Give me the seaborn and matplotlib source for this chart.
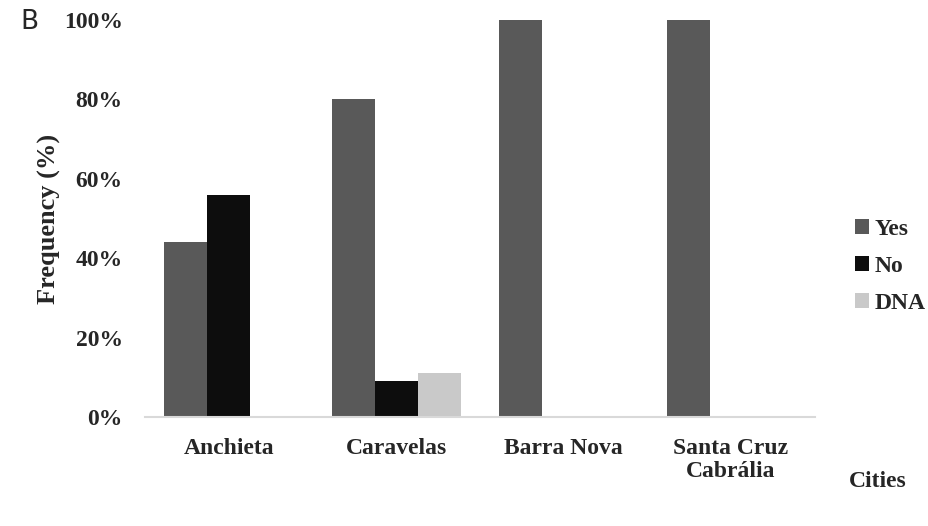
import pandas as pd
import seaborn as sns
import matplotlib.pyplot as plt
from matplotlib.ticker import PercentFormatter

# Data
cities = ['Anchieta', 'Caravelas', 'Barra Nova', 'Santa Cruz\nCabrália']
answers = ['Yes', 'No', 'DNA']
yes_vals = [44, 80, 100, 100]
no_vals = [56, 9, 0, 0]
dna_vals = [0, 11, 0, 0]

colors = ['#595959', '#0d0d0d', '#c9c9c9']

rows = []
for i, c in enumerate(cities):
    for a, vals in zip(answers, [yes_vals, no_vals, dna_vals]):
        rows.append({'City': c, 'Answer': a, 'Frequency': vals[i]})
df = pd.DataFrame(rows)

sns.set_style('white')
plt.rcParams['font.family'] = ['Liberation Serif', 'DejaVu Serif']

fig = plt.figure(figsize=(9.29, 5.26), dpi=100)
ax = fig.add_axes([0.156, 0.207, 0.721, 0.755])

sns.barplot(data=df, x='City', y='Frequency', hue='Answer', hue_order=answers,
            palette=colors, width=0.77, saturation=1, errorbar=None, ax=ax, linewidth=0)

ax.set_ylim(0, 100)
ax.set_yticks([0, 20, 40, 60, 80, 100])
ax.yaxis.set_major_formatter(PercentFormatter(decimals=0))
ax.tick_params(axis='y', labelsize=17, length=0, pad=16)
ax.tick_params(axis='x', labelsize=17, length=0, pad=15)
for lbl in ax.get_yticklabels() + ax.get_xticklabels():
    lbl.set_fontweight('bold')
    lbl.set_linespacing(1.15)

for s in ['top', 'right', 'left']:
    ax.spines[s].set_visible(False)
ax.spines['bottom'].set_color('#d9d9d9')
ax.spines['bottom'].set_linewidth(1.5)

ax.set_xlabel('')
ax.set_ylabel('Frequency (%)', fontsize=19, fontweight='bold', labelpad=2)

fig.text(0.945, 0.085, 'Cities', fontsize=17, fontweight='bold', ha='center', va='center')
fig.text(0.022, 0.958, 'B', fontsize=19, family='DejaVu Sans', ha='left', va='center')

ax.get_legend().remove()
handles, labels = ax.get_legend_handles_labels()
fig.legend(handles, labels, loc='center left', bbox_to_anchor=(0.92, 0.494), frameon=False,
           prop={'size': 17, 'weight': 'bold'}, handlelength=0.6, handleheight=0.6,
           handletextpad=0.25, labelspacing=0.68, borderpad=0, borderaxespad=0)

plt.savefig('out.png', dpi=100)
